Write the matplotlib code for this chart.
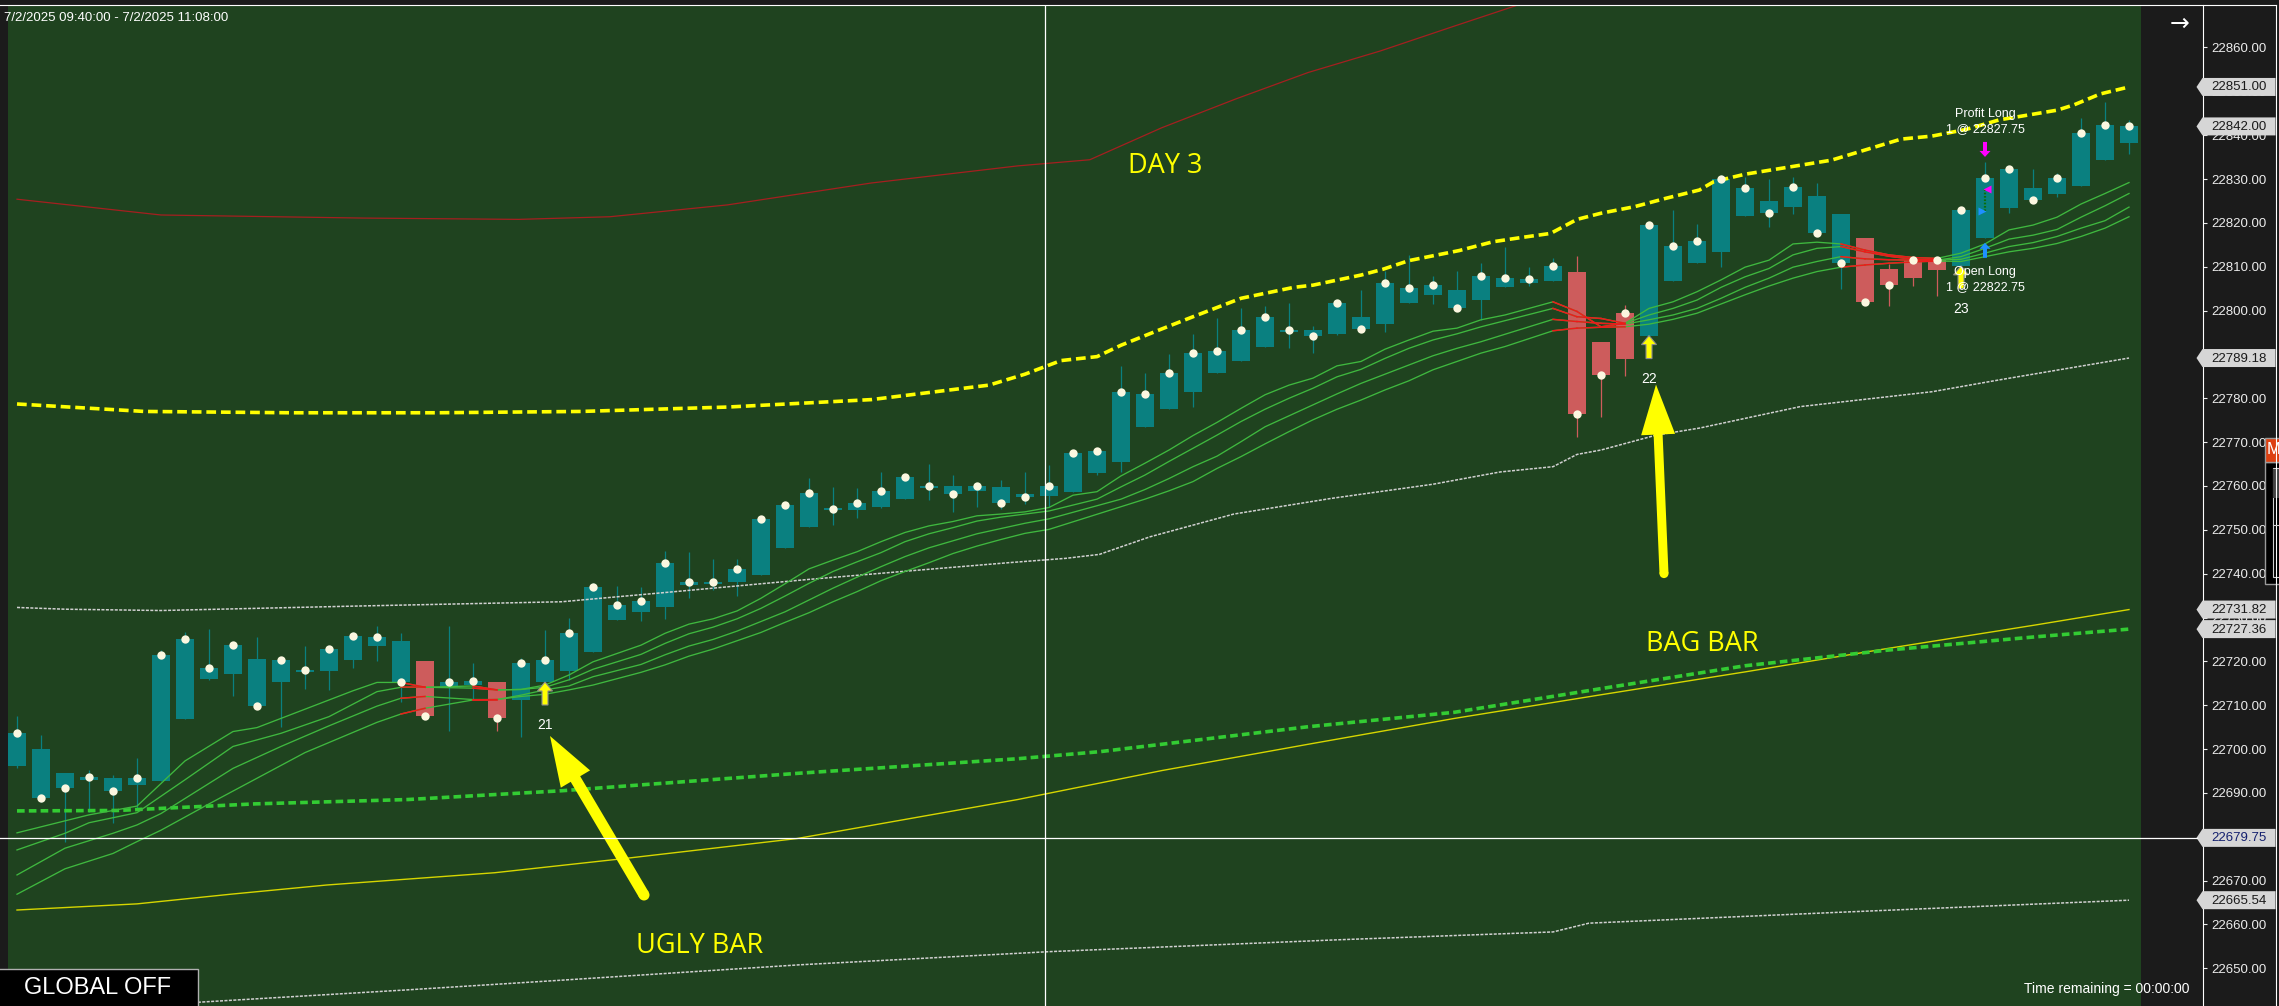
import numpy as np
import matplotlib
matplotlib.use("Agg")
import matplotlib.pyplot as plt
from matplotlib.patches import Polygon, Rectangle, Circle

plt.rcParams['lines.scale_dashes'] = False
plt.rcParams['font.family'] = ['Liberation Sans', 'DejaVu Sans']

# ------------------------------------------------------------------ data
date_range_text = "7/2/2025 09:40:00 - 7/2/2025 11:08:00"

opens = [22696.2, 22700.0, 22694.5, 22693.0, 22693.4, 22691.9, 22692.8, 22706.9, 22716.0, 22717.1,
         22720.5, 22715.2, 22717.7, 22717.9, 22720.3, 22723.4, 22724.6, 22720.1, 22714.2, 22714.6,
         22715.3, 22711.2, 22715.3, 22717.9, 22722.2, 22729.4, 22731.3, 22732.5, 22737.5, 22737.7,
         22738.0, 22739.6, 22745.9, 22750.7, 22754.5, 22754.6, 22755.2, 22757.0, 22759.5, 22760.0,
         22758.9, 22759.8, 22758.2, 22757.7, 22758.7, 22763.0, 22765.5, 22773.5, 22777.5, 22781.5,
         22785.8, 22788.4, 22791.8, 22795.2, 22795.5, 22794.7, 22798.5, 22797.0, 22801.8, 22803.6,
         22804.7, 22802.5, 22805.4, 22806.4, 22806.8, 22808.8, 22792.8, 22789.0, 22794.3, 22806.8,
         22810.9, 22813.4, 22821.6, 22825.0, 22823.7, 22826.1, 22822.0, 22816.6, 22809.5, 22807.5,
         22809.3, 22810.2, 22816.6, 22823.5, 22828.0, 22826.7, 22828.5, 22834.3, 22838.3]
closes = [22703.6, 22688.9, 22691.2, 22693.6, 22690.5, 22693.4, 22721.5, 22725.1, 22718.5, 22723.7,
          22709.8, 22720.3, 22718.0, 22722.8, 22725.8, 22725.6, 22715.4, 22707.6, 22715.3, 22715.6,
          22707.2, 22719.6, 22720.3, 22726.5, 22737.0, 22732.9, 22733.8, 22742.4, 22738.0, 22738.2,
          22741.1, 22752.5, 22755.7, 22758.4, 22754.8, 22756.1, 22758.9, 22762.1, 22760.0, 22758.2,
          22760.0, 22756.1, 22757.5, 22760.0, 22767.5, 22768.0, 22781.4, 22780.9, 22785.7, 22790.3,
          22790.8, 22795.6, 22798.5, 22795.5, 22794.1, 22801.7, 22795.7, 22806.4, 22805.2, 22805.8,
          22800.7, 22808.0, 22807.4, 22807.2, 22810.2, 22776.4, 22785.3, 22799.5, 22819.5, 22814.7,
          22815.9, 22830.0, 22828.0, 22822.3, 22828.2, 22817.6, 22810.9, 22802.0, 22805.9, 22811.5,
          22811.5, 22822.9, 22830.2, 22832.3, 22825.3, 22830.2, 22840.5, 22842.3, 22842.0]
highs = [22707.5, 22703.2, 22694.5, 22695.2, 22694.1, 22698.0, 22722.6, 22726.6, 22727.4, 22724.1,
         22725.6, 22720.3, 22723.5, 22722.8, 22726.8, 22728.1, 22726.5, 22720.1, 22728.1, 22719.6,
         22715.3, 22720.7, 22727.2, 22729.9, 22737.8, 22737.2, 22737.0, 22745.2, 22745.0, 22743.4,
         22743.4, 22752.6, 22755.8, 22761.8, 22759.8, 22759.5, 22763.2, 22762.2, 22765.0, 22762.5,
         22760.1, 22761.4, 22763.2, 22764.8, 22767.6, 22768.1, 22787.4, 22785.8, 22790.1, 22794.7,
         22798.3, 22800.6, 22801.0, 22801.7, 22796.5, 22801.8, 22804.7, 22809.1, 22812.7, 22807.9,
         22809.1, 22810.9, 22814.5, 22809.9, 22811.9, 22812.5, 22792.8, 22801.3, 22819.6, 22822.9,
         22819.7, 22831.0, 22830.5, 22830.0, 22830.5, 22829.2, 22822.0, 22816.6, 22810.6, 22812.5,
         22811.5, 22823.0, 22833.9, 22832.3, 22832.3, 22831.3, 22843.9, 22847.6, 22843.5]
lows = [22695.6, 22688.0, 22678.9, 22685.7, 22683.2, 22686.5, 22692.8, 22706.9, 22715.8, 22712.0,
        22709.8, 22705.1, 22713.8, 22713.4, 22718.6, 22720.2, 22710.8, 22707.6, 22704.2, 22711.2,
        22704.2, 22702.8, 22715.3, 22715.8, 22722.2, 22729.4, 22729.1, 22729.6, 22734.5, 22736.3,
        22735.0, 22739.6, 22745.9, 22750.7, 22751.0, 22752.8, 22755.0, 22757.0, 22756.8, 22754.1,
        22755.2, 22754.8, 22755.9, 22755.1, 22758.7, 22762.5, 22763.3, 22773.5, 22777.5, 22778.1,
        22785.8, 22788.4, 22791.8, 22791.5, 22790.4, 22794.5, 22795.7, 22795.2, 22801.8, 22801.6,
        22799.8, 22797.9, 22805.4, 22805.5, 22806.8, 22771.1, 22775.8, 22785.1, 22794.3, 22806.8,
        22810.9, 22810.0, 22821.6, 22819.1, 22822.1, 22817.6, 22805.0, 22802.0, 22801.1, 22805.7,
        22803.4, 22810.2, 22816.6, 22822.2, 22824.5, 22826.0, 22828.5, 22834.3, 22835.6]
red_bars = [17, 20, 65, 66, 67, 77, 78, 79, 80]

signal_bars = [22, 68, 81]
signal_labels = ["21", "22", "23"]
trade_bar = 82
entry_price = 22822.75
exit_price = 22827.75

# ribbon of four moving averages (bar index, price)
rib1_x = [0, 3, 5, 7, 9, 10, 12, 14, 15, 16, 17, 19, 20, 21, 22, 23, 24] + list(range(26, 63)) + list(range(64, 89))
rib1_y = [22680.9, 22685.0, 22687.0, 22697.3, 22704.0, 22704.9, 22709.1, 22713.3, 22715.2, 22715.2,
          22714.1, 22714.4, 22713.5, 22713.6, 22714.6, 22716.9, 22719.9,
          22723.7, 22726.4, 22728.5, 22729.7, 22731.5, 22734.4, 22737.7, 22741.1, 22743.1, 22745.0,
          22747.3, 22749.4, 22750.9, 22751.9, 22753.2, 22753.6, 22754.1, 22755.1,
          22757.9, 22758.7, 22762.3, 22765.2, 22768.2, 22771.5, 22774.5, 22777.7, 22780.8, 22783.0,
          22784.6, 22787.4, 22788.4, 22791.2, 22793.3, 22795.3, 22796.0, 22797.9, 22799.0,
          22802.0, 22799.8, 22796.3, 22797.1, 22800.5, 22802.0, 22804.3, 22807.0, 22809.9, 22811.5,
          22815.2, 22815.6, 22815.2, 22813.8, 22812.7, 22812.1, 22811.9, 22813.1, 22815.2, 22818.4,
          22819.5, 22821.3, 22824.3, 22826.7, 22829.2]
rib2_x = [0, 2, 3, 5, 7, 9, 11, 13, 15, 16, 17, 19, 20, 21, 22, 23, 24] + list(range(26, 44)) + list(range(45, 63)) + list(range(64, 89))
rib2_y = [22677.0, 22680.8, 22683.2, 22685.5, 22693.0, 22700.6, 22703.6, 22707.4, 22713.1, 22714.1,
          22714.1, 22713.9, 22713.5, 22713.6, 22714.1, 22715.8, 22718.2,
          22721.6, 22724.1, 22726.3, 22727.8, 22729.7, 22732.1, 22734.9, 22737.8, 22740.5, 22742.7,
          22744.8, 22747.3, 22749.1, 22750.5, 22752.0, 22752.9, 22753.6, 22754.3,
          22757.0, 22759.8, 22762.5, 22765.6, 22768.6, 22771.6, 22774.7, 22777.5, 22780.0, 22782.3,
          22784.9, 22786.6, 22789.1, 22791.4, 22793.3, 22794.7, 22796.3, 22797.7,
          22800.5, 22798.6, 22798.2, 22797.1, 22799.0, 22800.5, 22802.4, 22805.3, 22807.7, 22809.6,
          22812.7, 22814.2, 22814.6, 22813.4, 22812.4, 22811.7, 22811.5, 22812.3, 22814.2, 22816.3,
          22817.2, 22818.5, 22821.3, 22823.9, 22826.7]
rib3_x = [0, 2, 4, 5, 6, 9, 11, 13, 15, 16, 17, 19, 20, 21, 22, 23, 24] + list(range(26, 44)) + list(range(46, 63)) + list(range(64, 89))
rib3_y = [22671.3, 22677.4, 22680.8, 22682.7, 22685.3, 22695.6, 22700.6, 22705.3, 22709.8, 22711.6,
          22712.0, 22711.3, 22711.3, 22712.3, 22713.5, 22714.4, 22716.5,
          22719.3, 22721.5, 22723.5, 22725.0, 22726.9, 22729.1, 22731.3, 22734.0, 22736.7, 22739.2,
          22741.6, 22743.9, 22745.9, 22747.5, 22749.1, 22750.3, 22751.5, 22752.5,
          22757.0, 22759.2, 22761.7, 22764.4, 22766.8, 22770.1, 22773.5, 22776.0, 22778.5, 22781.0,
          22783.4, 22785.5, 22787.6, 22789.7, 22791.4, 22792.9, 22794.6,
          22798.0, 22797.5, 22797.1, 22796.9, 22797.9, 22799.0, 22800.5, 22802.8, 22805.3, 22807.4,
          22809.9, 22811.2, 22812.3, 22811.8, 22811.6, 22811.5, 22811.5, 22811.7, 22813.1, 22814.6,
          22815.5, 22816.9, 22818.8, 22820.5, 22823.6]
rib4_x = [0, 2, 4, 5, 6, 8, 12, 15, 16, 17, 19, 20, 21, 22, 23, 24] + list(range(26, 44)) + list(range(47, 63)) + list(range(64, 89))
rib4_y = [22666.9, 22672.7, 22676.2, 22678.9, 22681.5, 22687.5, 22699.2, 22706.1, 22708.0, 22709.3,
          22711.2, 22711.3, 22712.0, 22712.5, 22713.5, 22714.6,
          22717.5, 22719.2, 22721.2, 22722.8, 22724.7, 22726.6, 22728.9, 22731.1, 22733.6, 22735.9,
          22738.4, 22740.5, 22742.5, 22744.6, 22746.3, 22747.8, 22749.2, 22750.1,
          22757.0, 22758.9, 22761.0, 22764.0, 22766.7, 22769.6, 22772.4, 22775.1, 22777.5, 22779.6,
          22781.9, 22784.0, 22786.5, 22788.4, 22790.3, 22791.8,
          22795.4, 22796.0, 22796.2, 22796.3, 22796.9, 22798.0, 22799.4, 22801.5, 22803.6, 22805.6,
          22807.4, 22808.9, 22809.9, 22810.4, 22810.8, 22811.1, 22811.3, 22811.2, 22812.3, 22813.4,
          22814.2, 22815.3, 22816.9, 22818.8, 22821.4]

# band lines
red_top_x = [0, 6, 14.4, 20.9, 24.7, 29.6, 35.6, 41.7, 44.7, 47.7, 50.8, 53.8, 56.8, 59.9, 62.6]
red_top_y = [22825.4, 22821.8, 22821.1, 22820.8, 22821.4, 22824.1, 22829.1, 22833.0, 22834.4,
             22841.7, 22848.3, 22854.3, 22859.2, 22864.9, 22869.8]
ydash_x = [0, 5.3, 11.4, 17.5, 23.5, 29.6, 35.6, 40.5, 42, 43.5, 45, 46, 47.6, 49, 51, 53.2, 54,
           56, 56.9, 58, 60.1, 61.5, 62.6, 63.9, 65, 66, 67.4, 68.7, 70.1, 70.7, 72, 75.6, 78.5,
           79.8, 81.2, 82.6, 85, 85.7, 86.8, 88]
ydash_y = [22778.7, 22777.0, 22776.7, 22776.7, 22777.0, 22778.0, 22779.7, 22783.0, 22785.5, 22788.6,
           22789.5, 22792.1, 22795.6, 22798.6, 22802.8, 22805.3, 22805.8, 22808.1, 22809.4, 22811.4,
           22813.7, 22815.7, 22816.6, 22817.6, 22820.8, 22822.2, 22823.7, 22825.6, 22827.5, 22829.4,
           22831.1, 22834.3, 22839.1, 22839.8, 22841.3, 22843.5, 22845.7, 22846.9, 22849.4, 22851.0]
gray_mid_x = [0, 2, 6, 14, 22.7, 27.4, 33, 37.1, 41.3, 43.7, 45.1, 47.2, 50.7, 54.8, 59, 61.8, 64,
              65, 66, 68.3, 70.1, 74.3, 79.8, 82.6, 88]
gray_mid_y = [22732.3, 22731.9, 22731.6, 22732.6, 22733.6, 22735.9, 22738.7, 22740.6, 22742.5,
              22743.5, 22744.4, 22748.4, 22753.6, 22757.2, 22760.4, 22763.2, 22764.4, 22767.2,
              22768.2, 22771.6, 22773.2, 22778.1, 22781.5, 22784.2, 22789.18]
yellow_low_x = [0, 5, 8.9, 12.9, 19.9, 25.4, 32.5, 41.7, 47.7, 53.8, 59.9, 65.9, 72, 78, 84.1, 88]
yellow_low_y = [22663.3, 22664.7, 22666.9, 22669.0, 22671.8, 22675.1, 22679.6, 22688.5, 22695.1,
                22701.1, 22707.0, 22712.3, 22717.6, 22723.0, 22728.3, 22731.82]
green_dash_x = [0, 4.2, 9.9, 16.3, 22.7, 26.9, 32.6, 41.7, 45.1, 47.7, 53.8, 59.9, 65.9, 72, 78, 84.1, 88]
green_dash_y = [22685.9, 22686.0, 22687.5, 22688.5, 22690.5, 22692.2, 22694.5, 22697.8, 22699.4,
                22701.1, 22705.1, 22708.4, 22713.7, 22719.0, 22722.6, 22725.6, 22727.36]
gray_low_x = [5.5, 16.3, 22.7, 32.6, 43, 55, 64, 65.5, 76, 88]
gray_low_y = [22641.6, 22645.1, 22647.3, 22650.8, 22653.8, 22656.5, 22658.3, 22660.3, 22662.8, 22665.54]

price_ticks = list(range(22650, 22861, 10))
crosshair_price = 22679.75
crosshair_bar = 42.83

for a, b in [(rib1_x, rib1_y), (rib2_x, rib2_y), (rib3_x, rib3_y), (rib4_x, rib4_y)]:
    assert len(a) == len(b), (len(a), len(b))
assert len(opens) == len(closes) == len(highs) == len(lows) == 89

# ------------------------------------------------------------------ figure
W, H, DPI = 2279, 1006, 100
TOP = 5
PLOT_L, PLOT_R, SPINE_X = 8, 2141, 2203
fig = plt.figure(figsize=(W / DPI, H / DPI), dpi=DPI)
fig.patch.set_facecolor('#1b1b1b')

ax = fig.add_axes([PLOT_L / W, 0, (PLOT_R - PLOT_L) / W, (H - TOP) / H])
ax.set_facecolor('#1f431f')
ax.set_xlim(-0.375, 88.5)
ax.set_ylim(22641.41, 22869.69)
ax.set_xticks([])
ax.set_yticks([])
for s in ax.spines.values():
    s.set_visible(False)

TEAL = '#0a8080'
RED = '#cd5c5c'
body_w = 0.71
min_body = 0.45
for i in range(len(closes)):
    col = RED if i in red_bars else TEAL
    ax.vlines(i, lows[i], highs[i], color=col, lw=0.9, zorder=2)
    lo, hi = min(opens[i], closes[i]), max(opens[i], closes[i])
    if hi - lo < min_body:
        mid = (lo + hi) / 2
        lo, hi = mid - min_body / 2, mid + min_body / 2
    ax.add_patch(Rectangle((i - body_w / 2, lo), body_w, hi - lo, facecolor=col,
                           edgecolor='none', zorder=2))

# bands
ax.plot(red_top_x, red_top_y, color='#a51f1f', lw=0.9, zorder=3)
ax.plot(yellow_low_x, yellow_low_y, color='#d6d600', lw=1.0, zorder=3)
ax.plot(gray_mid_x, gray_mid_y, color='#d0d0d0', lw=1.1, dashes=(2.2, 1.0), zorder=3)
ax.plot(gray_low_x, gray_low_y, color='#d0d0d0', lw=1.1, dashes=(2.2, 1.0), zorder=3)
ax.plot(green_dash_x, green_dash_y, color='#33cc33', lw=2.6, dashes=(5.5, 3.0), zorder=3)
ax.plot(ydash_x, ydash_y, color='#ffff00', lw=2.6, dashes=(7.0, 3.5), zorder=3)

# ribbon
for xs, ys in [(rib1_x, rib1_y), (rib2_x, rib2_y), (rib3_x, rib3_y), (rib4_x, rib4_y)]:
    ax.plot(xs, ys, color='#3fb83f', lw=0.95, zorder=3)
    for k in range(1, len(xs)):
        if xs[k] in red_bars and xs[k] - xs[k - 1] == 1:
            ax.plot(xs[k - 1:k + 1], ys[k - 1:k + 1], color='#ee1a1a', lw=1.1, zorder=3.5)

ax.plot(range(len(closes)), closes, 'o', ms=6.0, color='#fbf7e0', mec='none', zorder=5)

# trade markers
ax.plot([trade_bar, trade_bar], [entry_price, exit_price], color='#0b6e0b', lw=1.6,
        dashes=(1.2, 1.2), zorder=6)
ax.plot(trade_bar + 0.1, exit_price, marker='<', ms=6, color='#ff00ff', mec='none', zorder=6)
ax.plot(trade_bar - 0.14, entry_price, marker='>', ms=6, color='#1e90ff', mec='none', zorder=6)

ax.axvline(crosshair_bar, color='white', lw=0.9, zorder=7)

# right price scale
axr = fig.add_axes([PLOT_R / W, 0, (SPINE_X - PLOT_R) / W, (H - TOP) / H])
axr.set_facecolor('#1b1b1b')
axr.set_ylim(ax.get_ylim())
axr.set_xticks([])
axr.yaxis.tick_right()
axr.set_yticks(price_ticks)
axr.set_yticklabels([f"{t:.2f}" for t in price_ticks])
axr.tick_params(axis='y', colors='#ececec', length=2.9, width=0.8, pad=2.9, labelsize=9.5)
for name, s in axr.spines.items():
    s.set_visible(name == 'right')
axr.spines['right'].set_color('white')
axr.spines['right'].set_linewidth(0.8)

# overlay in image pixel coordinates
ov = fig.add_axes([0, 0, 1, 1], zorder=20)
ov.set_xlim(0, W)
ov.set_ylim(H, 0)
ov.axis('off')


def to_img(bx, p):
    d = ax.transData.transform((bx, p))
    return d[0], H - d[1]


ov.plot([0, 2276], [4.5, 4.5], color='white', lw=0.8)
ov.plot([2276, 2276], [4.5, H], color='white', lw=0.8)

# crosshair horizontal
_, ych = to_img(0, crosshair_price)
ov.plot([0, 2197], [ych, ych], color='white', lw=0.9)


def price_tag(p, tcol='#1a1a1a'):
    _, y = to_img(0, p)
    ov.add_patch(Polygon([(2196.5, y), (2202.5, y - 9), (2275.5, y - 9), (2275.5, y + 9),
                          (2202.5, y + 9)], closed=True, fc='#d6d6d6', ec='none'))
    ov.text(2211, y + 0.5, f"{p:.2f}", color=tcol, fontsize=9.5, va='center', ha='left')


for val in [ydash_y[-1], closes[-1], gray_mid_y[-1], yellow_low_y[-1], green_dash_y[-1], gray_low_y[-1]]:
    price_tag(val)
price_tag(crosshair_price, '#14206e')

# signal arrows
for b, lab in zip(signal_bars, signal_labels):
    xx, yt = to_img(b, lows[b])
    verts = [(xx, yt), (xx + 7.5, yt + 9), (xx + 3, yt + 9), (xx + 3, yt + 23), (xx - 3, yt + 23),
             (xx - 3, yt + 9), (xx - 7.5, yt + 9)]
    ov.add_patch(Polygon(verts, closed=True, fc='#ffff00', ec='#8c8c8c', lw=0.8))
    ov.text(xx, yt + 43, lab, color='white', fontsize=10, ha='center', va='center')


def big_arrow(tail, tip, shaft=10, head_w=34, head_len=50, color='#ffff00'):
    tail = np.array(tail, float)
    tip = np.array(tip, float)
    d = tip - tail
    u = d / np.hypot(*d)
    n = np.array([-u[1], u[0]])
    base = tip - u * head_len
    verts = [tail + n * shaft / 2, base + n * shaft / 2, base + n * head_w / 2, tip,
             base - n * head_w / 2, base - n * shaft / 2, tail - n * shaft / 2]
    ov.add_patch(Polygon(verts, closed=True, fc=color, ec='none'))
    ov.add_patch(Circle(tail, shaft / 2, fc=color, ec='none'))


bx, by = to_img(signal_bars[0], lows[signal_bars[0]])
big_arrow((bx + 99, by + 213), (bx + 5, by + 54), shaft=11)
bx, by = to_img(signal_bars[1], lows[signal_bars[1]])
big_arrow((bx + 15, by + 238), (bx + 7, by + 49), shaft=9)

# profit / open long markers
xx, yh = to_img(trade_bar, highs[trade_bar])
ov.add_patch(Polygon([(xx - 2, yh - 20), (xx + 2, yh - 20), (xx + 2, yh - 11), (xx + 5.5, yh - 11),
                      (xx, yh - 5), (xx - 5.5, yh - 11), (xx - 2, yh - 11)], closed=True,
                     fc='#ff00ff', ec='none'))
ov.text(xx, yh - 48, "Profit Long", color='white', fontsize=9, ha='center', va='center')
ov.text(xx, yh - 33, f"1 @ {exit_price:.2f}", color='white', fontsize=9, ha='center', va='center')
xx, yl = to_img(trade_bar, lows[trade_bar])
ov.add_patch(Polygon([(xx - 2, yl + 20), (xx + 2, yl + 20), (xx + 2, yl + 11), (xx + 5.5, yl + 11),
                      (xx, yl + 5), (xx - 5.5, yl + 11), (xx - 2, yl + 11)], closed=True,
                     fc='#1e90ff', ec='none'))
ov.text(xx, yl + 34, "Open Long", color='white', fontsize=9, ha='center', va='center', zorder=1)
ov.text(xx, yl + 49, f"1 @ {entry_price:.2f}", color='white', fontsize=9, ha='center', va='center',
        zorder=1)

# annotations
ov.text(1165, 166, "DAY 3", color='#ffff00', fontsize=19.5, ha='center', va='center',
        family=['Open Sans', 'DejaVu Sans'])
ov.text(700, 946, "UGLY BAR", color='#ffff00', fontsize=19.5, ha='center', va='center',
        family=['Open Sans', 'DejaVu Sans'])
ov.text(1702, 644, "BAG BAR", color='#ffff00', fontsize=19.5, ha='center', va='center',
        family=['Open Sans', 'DejaVu Sans'])

ov.text(4, 17.5, date_range_text, color='white', fontsize=9.5, ha='left', va='center')
ov.text(2190, 989, "Time remaining = 00:00:00", color='white', fontsize=10, ha='right', va='center')
ov.text(2180, 24, "\u2192", color='white', fontsize=17, ha='center', va='center',
        family=['DejaVu Sans'])

ov.add_patch(Rectangle((-2, 969), 200, 40, fc='black', ec='#b0b0b0', lw=1))
ov.text(98, 988.5, "GLOBAL OFF", color='white', fontsize=17, ha='center', va='center')

# small "M" widget at the right edge
ov.add_patch(Rectangle((2265, 462), 16, 122, fc='black', ec='#9a9a9a', lw=1))
ov.add_patch(Rectangle((2265, 438), 16, 24, fc='#dd4010', ec='#9a9a9a', lw=1))
ov.text(2267, 450, "M", color='white', fontsize=12, ha='left', va='center')
ov.add_patch(Rectangle((2272.5, 468), 10, 109, fc='black', ec='#d0d0d0', lw=0.8))
ov.add_patch(Rectangle((2273, 468.5), 9, 29, fc='#444444', ec='none'))
ov.plot([2273, 2279], [525, 525], color='#d0d0d0', lw=0.8)

fig.savefig('out.png', dpi=DPI, facecolor=fig.get_facecolor())
